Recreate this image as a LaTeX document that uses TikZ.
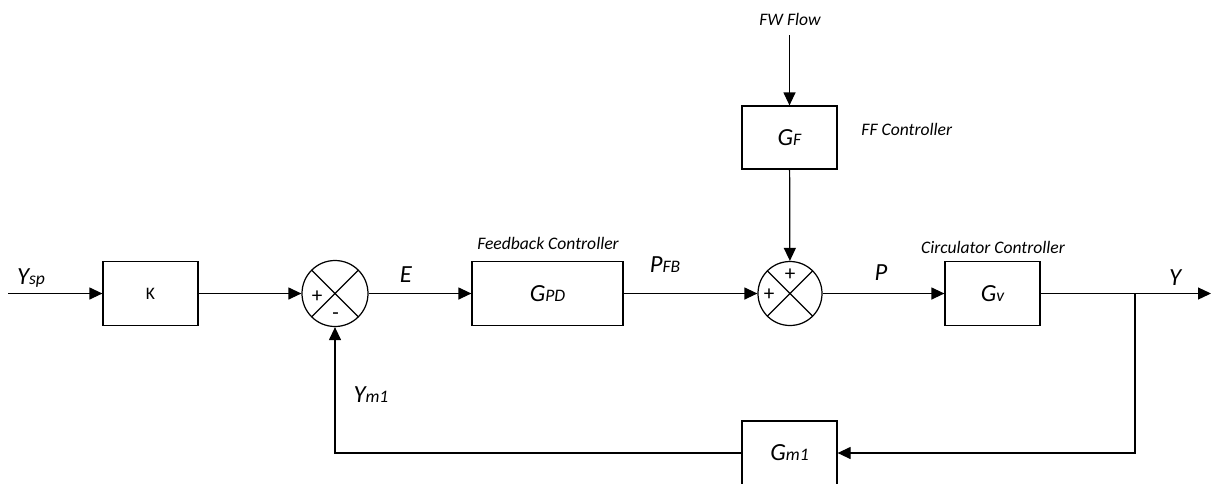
\documentclass[tikz,border=0pt]{standalone}
\usepackage{fontspec}
\setmainfont{Carlito}
\usetikzlibrary{arrows.meta}
\usetikzlibrary{positioning}
\newcommand{\sym}[2]{{\fontsize{14}{14}\selectfont\itshape #1{\fontsize{10}{10}\selectfont #2}}}
\tikzset{
block/.style={ % the transfer boxes
draw,
minimum width=1.9cm,
minimum height=1.28cm,
inner sep=0pt},
sumjunc/.style={ % summing junction with a cross
draw,
circle,
minimum size=1.32cm,
inner sep=0pt,
path picture={\draw (path picture bounding box.north west) -- (path picture bounding box.south east)
(path picture bounding box.north east) -- (path picture bounding box.south west);}},
sig/.style={-{Triangle[length=0.26cm,width=0.24cm]}},
note/.style={font=\fontsize{10}{12}\selectfont\itshape},
sign/.style={font=\fontsize{12}{12}\selectfont, inner sep=0pt}}

\begin{document}
\begin{tikzpicture}[line width=0.7pt]
	\useasboundingbox (0,0) rectangle (24.24,-9.66);
	% blocks and junctions
	\node[block] (K) at (3.01,-5.87) {\fontsize{10}{10}\selectfont K};
	\node[sumjunc] (sum1) at (6.70,-5.87) {};
	\node[block, minimum width=3.02cm] (Gpd) at (10.95,-5.87) {\sym{G}{PD}};
	\node[block, minimum height=1.26cm] (Gf) at (15.79,-2.75) {\sym{G}{F}};
	\node[sumjunc, minimum size=1.28cm] (sum2) at (15.80,-5.87) {};
	\node[block] (Gv) at (19.85,-5.87) {\sym{G}{v}};
	\node[block] (Gm1) at (15.79,-9.06) {\sym{G}{m1}};
	% signs
	\node[sign] (s1a) at (6.34,-5.94) {+};
	\node[sign] (s1b) at (6.71,-6.33) {-};
	\node[sign] (s2a) at (15.38,-5.90) {+};
	\node[sign] (s2b) at (15.80,-5.50) {+};
	% free ends
	\coordinate (ysp) at (0.16,-5.87);
	\coordinate (fw) at (15.79,-0.70);
	\coordinate (branch) at (22.70,-5.87);
	\coordinate (yout) at (24.22,-5.87);
	% labels
	\node (lYsp) at (0.62,-5.56) {\sym{Y}{sp}};
	\node (lE) at (8.12,-5.50) {\sym{E}{}};
	\node[note] (lfb) at (10.96,-4.86) {Feedback Controller};
	\node (lPfb) at (13.30,-5.30) {\sym{P}{FB}};
	\node[note] (lfw) at (15.80,-0.38) {FW Flow};
	\node[note, anchor=west] (lff) at (17.10,-2.58) {FF Controller};
	\node (lP) at (17.62,-5.46) {\sym{P}{}};
	\node[note] (lcc) at (19.86,-4.94) {Circulator Controller};
	\node (lY) at (23.50,-5.56) {\sym{Y}{}};
	\node (lYm) at (7.42,-7.90) {\sym{Y}{m1}};
	% signals
	\draw[sig] (ysp) -- (K);
	\draw[sig] (K) -- (sum1);
	\draw[sig] (sum1) -- (Gpd);
	\draw[sig] (Gpd) -- (sum2);
	\draw[sig] (fw) -- (Gf);
	\draw[sig] (Gf) -- (sum2);
	\draw[sig] (sum2) -- (Gv);
	\draw (Gv) -- (branch);
	\draw[sig] (branch) -- (yout);
	\draw[sig] (branch) |- (Gm1);
	\draw[sig] (Gm1) -| (sum1);
	\end{tikzpicture}
\end{document}
